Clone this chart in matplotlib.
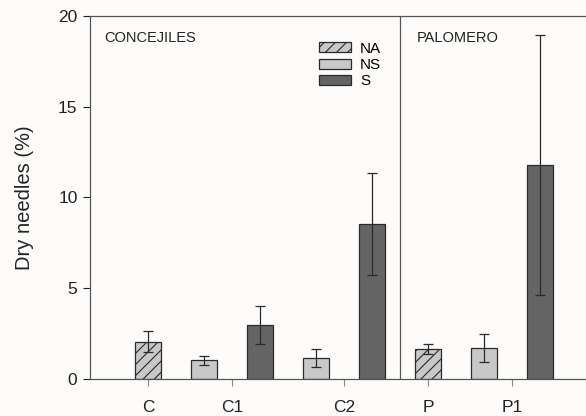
import numpy as np
import matplotlib
matplotlib.use("Agg")
import matplotlib.pyplot as plt
from matplotlib.patches import Patch

plt.rcParams['font.family'] = ['Liberation Sans', 'DejaVu Sans']
plt.rcParams['hatch.linewidth'] = 0.8
plt.rcParams['hatch.color'] = '#3a3a3a'

# one entry per bar, in drawing order
bar_type = ['NA', 'NS', 'S', 'NS', 'S', 'NA', 'NS', 'S']
bar_mean = [2.05, 1.03, 2.98, 1.14, 8.54, 1.64, 1.71, 11.79]
bar_err = [0.57, 0.25, 1.03, 0.50, 2.82, 0.28, 0.75, 7.14]

sites = ['C', 'C1', 'C2', 'P', 'P1']
site_bars = [[0], [1, 2], [3, 4], [5], [6, 7]]

styles = {
    'NA': dict(color='#c8c8c8', hatch='///'),
    'NS': dict(color='#c8c8c8', hatch=None),
    'S': dict(color='#646464', hatch=None),
}
edge = '#2a2a2a'
bg = '#fdfcfa'

fig = plt.figure(figsize=(5.86, 4.16), dpi=100, facecolor=bg)
ax = fig.add_axes([90/586, 1 - 379/416, 496/586, 363/416], facecolor=bg)

x = np.arange(len(bar_mean))
for i in x:
    st = styles[bar_type[i]]
    ax.bar(i, bar_mean[i], width=0.45, color=st['color'], hatch=st['hatch'],
           edgecolor=edge, linewidth=0.9, zorder=2)
ax.errorbar(x, bar_mean, yerr=bar_err, fmt='none', ecolor='#2a2a2a',
            elinewidth=0.9, capsize=3.8, capthick=0.9, zorder=3)

# divider between the two sites
ax.axvline(4.5, ymin=0, ymax=1, color='#555555', linewidth=0.9, zorder=1)

ax.set_xlim(-1.036, 7.82)
ax.set_ylim(0, 20)
ax.set_yticks([0, 5, 10, 15, 20])
ax.set_xticks([np.mean(b) for b in site_bars])
ax.set_xticklabels(sites)
ax.tick_params(axis='y', direction='out', length=5, width=0.8, labelsize=12.5,
               colors='#222222', pad=4)
ax.tick_params(axis='x', direction='out', length=5, width=0.8, labelsize=12.5,
               colors='#222222', pad=10)
ax.tick_params(axis='x', color='#888888')
ax.set_ylabel('Dry needles (%)', fontsize=14.5, color='#222222', labelpad=17)

ax.spines['right'].set_visible(False)
for s in ['left', 'top', 'bottom']:
    ax.spines[s].set_color('#555555')
    ax.spines[s].set_linewidth(0.9)

ax.text(0.028, 0.94, 'CONCEJILES', transform=ax.transAxes, fontsize=10.5,
        va='center', ha='left', color='#222222')
ax.text(0.659, 0.94, 'PALOMERO', transform=ax.transAxes, fontsize=10.5,
        va='center', ha='left', color='#222222')

handles = [Patch(facecolor=styles[k]['color'], hatch=styles[k]['hatch'],
                 edgecolor=edge, linewidth=0.9, label=k) for k in ['NA', 'NS', 'S']]
ax.legend(handles=handles, loc='upper left', bbox_to_anchor=(0.449, 0.946),
          frameon=False, fontsize=11, handlelength=2.1, handleheight=0.65,
          labelspacing=0.15, handletextpad=0.6, borderaxespad=0)

fig.savefig('out.png', dpi=100, facecolor=bg)
